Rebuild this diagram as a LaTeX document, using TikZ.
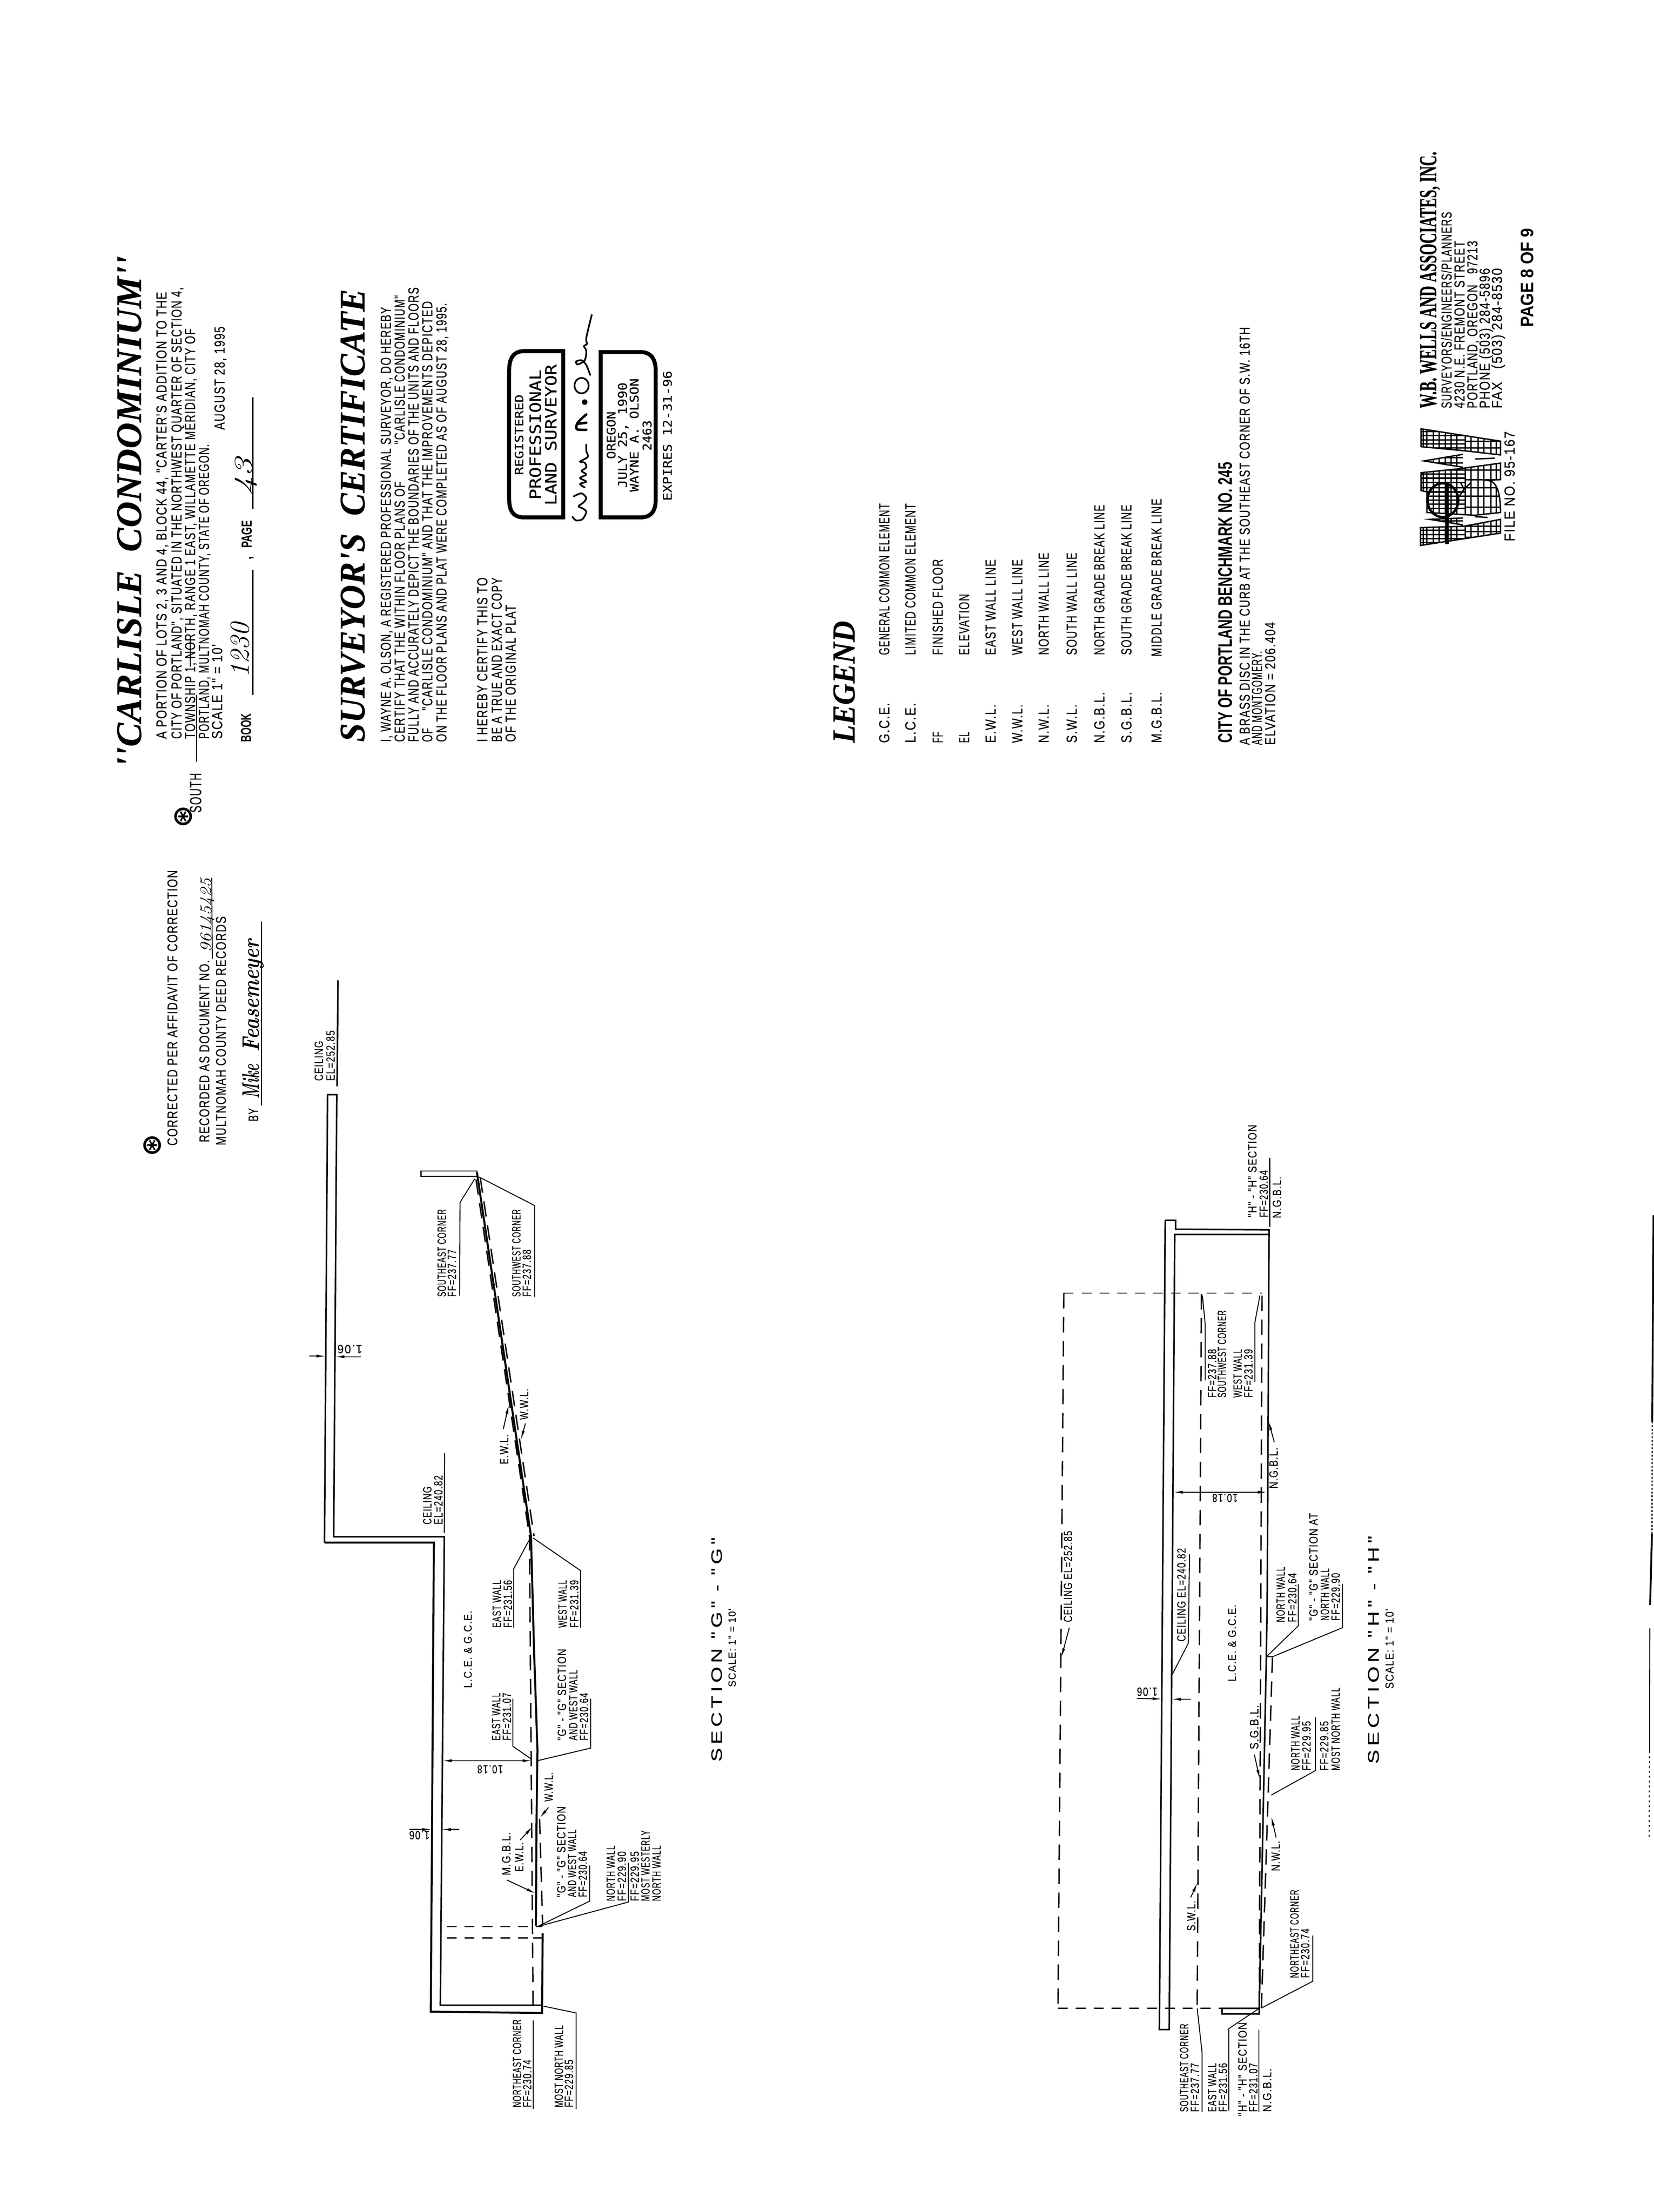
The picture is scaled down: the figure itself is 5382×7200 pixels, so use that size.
\documentclass[tikz,border=0pt]{standalone}
\usepackage{fontspec}
\usepackage{graphicx}
\usetikzlibrary{arrows.meta}
\newfontfamily\lero[LetterSpace=8,FakeBold=0.35]{Liberation Sans}
\newfontfamily\plainsf{Liberation Sans}
\newfontfamily\secf[LetterSpace=18,FakeBold=0.5]{Liberation Sans}
\newfontfamily\ttl[LetterSpace=1,FakeBold=0.4]{Liberation Serif}
\newfontfamily\slab[FakeBold=0.6]{Liberation Serif}
\newfontfamily\stampf[FakeBold=0.3]{DejaVu Sans Mono}
\newfontfamily\djv{DejaVu Sans}
\newcommand\hw{\normalfont\itshape}
\newcommand\bsf{\plainsf\bfseries}
\newcommand\ttlf{\ttl\bfseries\itshape}
\newcommand\slabf{\slab\bfseries}
\newcounter{tc}
% \T[font]{x}{y}{length}{cap}{text}: rotated text, baseline start at (x,y)
\newcommand\T[6][\lero]{\stepcounter{tc}%
  \pgfmathsetmacro\tfs{#5*0.397}\pgfmathsetmacro\tlen{#4*0.2845274}%
  \node[lab] (t\thetc) at (#2,#3) {#1\fontsize{\tfs pt}{\tfs pt}\selectfont\resizebox{\tlen pt}{\height}{#6}};}
% \U{x}{y}{length}{cap}{text}: upside-down dimension text
\newcommand\U[5]{\stepcounter{tc}%
  \pgfmathsetmacro\tfs{#4*0.397}\pgfmathsetmacro\tlen{#3*0.2845274}%
  \node[dimlab] (t\thetc) at (#1,#2) {\lero\fontsize{\tfs pt}{\tfs pt}\selectfont\resizebox{\tlen pt}{\height}{#5}};}
\tikzset{
  lab/.style={rotate=90,anchor=base west,inner sep=0pt,outer sep=0pt},
  dimlab/.style={rotate=180,anchor=base west,inner sep=0pt,outer sep=0pt},
  wall/.style={line width=.5mm},
  fine/.style={line width=.35mm},
  leader/.style={line width=.3mm},
  vd/.style={line width=.45mm,dash pattern=on 5mm off 2.8mm},
  hd/.style={line width=.35mm,dash pattern=on 3.2mm off 2.6mm},
  arr/.style={line width=.3mm,-{Latex[length=3mm,width=1mm]}},
  stampbox/.style={line width=1.3mm},
  pen/.style={line width=.55mm,line cap=round,line join=round},
  logo/.style={line width=.45mm,line join=miter},
  astmark/.style={inner sep=0pt,outer sep=0pt,rotate=90,font=\djv\bfseries\fontsize{25}{25}\selectfont},
}
\begin{document}
\begin{tikzpicture}[x=0.01cm,y=-0.01cm]
\useasboundingbox[fill=white] (0,0) rectangle (5382,7200);
% ---- title block
\T[\ttlf]{459}{2498}{1664}{84}{''CARLISLE\ \ CONDOMINIUM''}
\T{542}{2405}{1454}{34}{A PORTION OF LOTS 2, 3 AND 4, BLOCK 44, "CARTER'S ADDITION TO THE}
\T{591}{2405}{1469}{34}{CITY OF PORTLAND", SITUATED IN THE NORTHWEST QUARTER OF SECTION 4,}
\T{635}{2405}{1335}{34}{TOWNSHIP 1, NORTH, RANGE 1 EAST, WILLAMETTE MERIDIAN, CITY OF}
\T{680}{2405}{959}{34}{PORTLAND, MULTNOMAH COUNTY, STATE OF OREGON.}
\T{723}{2405}{308}{34}{SCALE 1" = 10'}
\T{731}{1399}{336}{34}{AUGUST 28, 1995}
\draw[leader] (640,2479) -- (640,2262);
\draw[leader] (619,2170) -- (619,2071);
\T{655}{2645}{129}{38}{SOUTH}
\node[astmark] (ast1) at (596,2658) {⊛};
\T[\bsf]{817}{2415}{93}{34}{BOOK}
\draw[fine] (823,2262) -- (823,1854);
\T[\bsf]{819}{1784}{89}{34}{PAGE}
\T[\bsf]{819}{1822}{12}{34}{,}
\draw[fine] (823,1657) -- (823,1293);
\T[\hw]{810}{2205}{178}{64}{1230}
\T[\hw]{820}{1612}{121}{60}{43}
% ---- surveyor
\T[\ttlf]{1186}{2415}{1473}{84}{SURVEYOR'S\ \ CERTIFICATE}
\T{1272}{2415}{1415}{34}{I, WAYNE A. OLSON, A REGISTERED PROFESSIONAL SURVEYOR, DO HEREBY}
\T{1317}{2415}{848}{34}{CERTIFY THAT THE WITHIN FLOOR PLANS OF}
\T{1317}{1446}{485}{34}{"CARLISLE CONDOMINIUM"}
\T{1362}{2415}{1479}{34}{FULLY AND ACCURATELY DEPICT THE BOUNDARIES OF THE UNITS AND FLOORS}
\T{1407}{2415}{45}{34}{OF}
\T{1407}{2313}{1332}{34}{"CARLISLE CONDOMINIUM" AND THAT THE IMPROVEMENTS DEPICTED}
\T{1453}{2415}{1428}{34}{ON THE FLOOR PLANS AND PLAT WERE COMPLETED AS OF AUGUST 28, 1995.}
\T{1586}{2415}{535}{34}{I HEREBY CERTIFY THIS TO}
\T{1633}{2415}{535}{34}{BE A TRUE AND EXACT COPY}
\T{1678}{2415}{446}{34}{OF THE ORIGINAL PLAT}
% ---- stamp
\draw[stampbox] (1833,1143) -- (1705,1143) .. controls (1672,1143) and (1657,1165) .. (1657,1205) -- (1657,1625) .. controls (1657,1665) and (1672,1684) .. (1705,1684) -- (1833,1684) -- cycle;
\draw[stampbox] (1955,1146) -- (2085,1146) .. controls (2118,1146) and (2134,1168) .. (2134,1208) -- (2134,1625) .. controls (2134,1665) and (2118,1684) .. (2085,1684) -- (1955,1684) -- cycle;
\T[\stampf]{1703}{1546}{262}{27}{REGISTERED}
\T[\stampf]{1760}{1626}{423}{36}{PROFESSIONAL}
\T[\stampf]{1811}{1645}{459}{36}{LAND SURVEYOR}
\T[\stampf]{2003}{1494}{155}{28}{OREGON}
\T[\stampf]{2040}{1588}{343}{28}{JULY 25, 1990}
\T[\stampf]{2078}{1601}{369}{28}{WAYNE A. OLSON}
\T[\stampf]{2120}{1467}{99}{28}{2463}
\T[\stampf]{2186}{1630}{423}{28}{EXPIRES 12-31-96}
% signature
\begin{scope}[shift={(1500,1100)},x=0.005102cm,y=-0.003827cm]
\draw[pen] plot[smooth] coordinates {(712,1520)(735,1550)(775,1540)(800,1480)(780,1450)(750,1430)(780,1400)(800,1360)(770,1320)(720,1345)};
\draw[pen] plot[smooth] coordinates {(790,1270)(760,1240)(800,1220)(760,1190)(800,1160)(770,1130)(800,1100)(790,1060)(760,1050)(810,1010)(800,960)(800,905)};
\draw[pen,line width=.8mm] plot[smooth] coordinates {(800,650)(745,720)(740,775)(800,780)};
\draw[pen,line width=.8mm] (745,730) -- (800,720);
\fill (790,545) ellipse (.09cm and .09cm);
\draw[pen] (770,405) ellipse (.23cm and .25cm);
\draw[pen] plot[smooth] coordinates {(825,315)(800,230)(770,190)(735,200)(745,225)(790,190)(800,110)(785,70)(805,50)(800,0)(835,-196)};
\end{scope}
% ---- affidavit
\node[astmark] (ast2) at (496,3728) {⊛};
\T{577}{3729}{896}{33}{CORRECTED PER AFFIDAVIT OF CORRECTION}
\T{681}{3718}{593}{33}{RECORDED AS DOCUMENT NO.}
\T{735}{3728}{745}{33}{MULTNOMAH COUNTY DEED RECORDS}
\draw[leader] (691,3121) -- (689,2857);
\T[\hw]{688}{3100}{241}{38}{96145425}
\T{840}{3650}{43}{32}{BY}
\draw[fine] (851,3598) -- (851,3000);
\T[\hw\bfseries]{843}{3576}{112}{56}{Mike}
\T[\hw\bfseries]{843}{3423}{365}{56}{Feasemeyer}
% ---- legend
\T[\ttlf]{2781}{2418}{397}{75}{LEGEND}
\T{2894}{2418}{130}{34}{G.C.E.}   \T{2894}{2132}{493}{34}{GENERAL COMMON ELEMENT}
\T{2979}{2418}{130}{34}{L.C.E.}   \T{2979}{2132}{493}{34}{LIMITED COMMON ELEMENT}
\T{3068}{2418}{36}{34}{FF}        \T{3068}{2132}{312}{34}{FINISHED FLOOR}
\T{3154}{2418}{36}{34}{EL}        \T{3154}{2132}{199}{34}{ELEVATION}
\T{3240}{2418}{125}{34}{E.W.L.}   \T{3240}{2132}{311}{34}{EAST WALL LINE}
\T{3327}{2418}{125}{34}{W.W.L.}   \T{3327}{2132}{311}{34}{WEST WALL LINE}
\T{3413}{2418}{125}{34}{N.W.L.}   \T{3413}{2132}{333}{34}{NORTH WALL LINE}
\T{3504}{2418}{125}{34}{S.W.L.}   \T{3504}{2132}{333}{34}{SOUTH WALL LINE}
\T{3594}{2418}{165}{34}{N.G.B.L.} \T{3594}{2132}{489}{34}{NORTH GRADE BREAK LINE}
\T{3682}{2418}{165}{34}{S.G.B.L.} \T{3682}{2132}{489}{34}{SOUTH GRADE BREAK LINE}
\T{3780}{2418}{165}{34}{M.G.B.L.} \T{3780}{2137}{514}{34}{MIDDLE GRADE BREAK LINE}
\T[\bsf]{4010}{2418}{913}{46}{CITY OF PORTLAND BENCHMARK NO. 245}
\T{4067}{2425}{1360}{34}{A BRASS DISC IN THE CURB AT THE SOUTHEAST CORNER OF S.W. 16TH}
\T{4107}{2425}{306}{34}{AND MONTGOMERY.}
\T{4150}{2425}{400}{34}{ELVATION = 206.404}
% ---- firm
\T[\slabf]{4674}{1329}{835}{57}{W.B. WELLS AND ASSOCIATES, INC.}
\T{4724}{1329}{639}{34}{SURVEYORS/ENGINEERS/PLANNERS}
\T{4766}{1329}{545}{34}{4230 N.E. FREMONT STREET}
\T{4808}{1329}{545}{34}{PORTLAND, OREGON\quad 97213}
\T{4848}{1329}{456}{34}{PHONE (503) 284-5896}
\T{4888}{1329}{456}{34}{FAX\quad (503) 284-8530}
\T{4929}{1762}{358}{34}{FILE NO. 95-167}
\T[\bsf]{4990}{1065}{321}{42}{PAGE 8 OF 9}
% logo
\begin{scope}[shift={(4500,400)},x=0.003827cm,y=-0.008929cm]
\begin{scope}
\clip (325,1115)--(1000,1160)--(1000,1210)--(695,1195)--(325,1180)--cycle
 (680,1208)--(350,1232)--(680,1255)--cycle
 (325,1275)--(660,1260)--(1000,1240)--(1000,1300)--(890,1303) .. controls (970,1305) and (1000,1350) .. (1000,1420)--(780,1430)--(375,1420)--(375,1345)--(325,1340)--cycle
 (680,1440)--(400,1445)--(680,1465)--cycle
 (320,1475)--(690,1470)--(1000,1445)--(1000,1495)--(320,1540)--cycle;
\foreach \a in {1125,1140,1155,1170,1185,1205,1220,1240,1265,1280,1295,1310,1330,1345,1360,1375,1390,1405,1450,1485,1500,1515,1530}
  \draw[logo] (320,\a) -- (700,\a);
\foreach \a in {1130,1160,1185,1215,1240,1265,1300,1330,1360,1400,1470,1490,1510}
  \draw[logo] (700,\a) -- (1000,\a);
\foreach \a in {345,375,430,480,530,580,630,700,750,810,860,920,965}
  \draw[logo] (\a,1100) -- (\a,1550);
\end{scope}
\draw[logo] (325,1115)--(1000,1160)--(1000,1210)--(695,1195)--(325,1180)--cycle;
\draw[logo] (680,1208)--(350,1232)--(680,1255);
\draw[logo] (325,1275)--(660,1260)--(1000,1240)--(1000,1300)--(890,1303) .. controls (970,1305) and (1000,1350) .. (1000,1420)--(780,1430)--(375,1420)--(375,1345)--(325,1340)--cycle;
\draw[logo] (680,1440)--(400,1445)--(680,1465);
\draw[logo] (320,1475)--(690,1470)--(1000,1445)--(1000,1495)--(320,1540)--cycle;
\draw[logo] (785,1225)--(950,1222);
\draw[logo] (780,1435)--(890,1438);
\draw[logo] (660,1310)--(690,1335)--(750,1310);
\draw[logo] (690,1335)--(650,1360);
\draw[line width=.8mm] (510,1375) ellipse (.5cm and .55cm);
\draw[line width=1.2mm] (545,1315)--(545,1535);
\end{scope}
% ---- SECTION G
\draw[wall] (1056,5021) -- (1066,3563) -- (1096,3563) -- (1086,5002) -- (1446,5002) -- (1433,6527) -- (1763,6527);
\draw[line width=.65mm] (1056,5021) -- (1412,5021) -- (1402,6548) -- (1764,6552) -- (1766,6293);
\draw[fine] (1370,3812) -- (1552,3812) -- (1552,3829) -- (1370,3829) -- cycle;
\draw[line width=.65mm] (1552,3815) -- (1728,5000) -- (1738,5373) -- (1749,5696) -- (1746,5933) -- (1744,6268);
\draw[vd] (1549,3839) -- (1723,5000) -- (1735,6555);
\draw[vd] (1563,3833) -- (1738,5000);
\draw[vd] (1756,5920) -- (1766,6268);
\draw[hd] (1454,6271) -- (1745,6271);
\draw[hd] (1454,6308) -- (1735,6308);
\draw[fine] (1735,6308) -- (1766,6308);
\draw[fine] (1744,6271) -- (1766,6271);
% dims
\draw[arr] (1007,4414) -- (1060,4414);
\draw[arr] (1175,4416) -- (1091,4416);
\U{1179}{4378}{81}{28}{1.06}
\draw[arr] (1332,5955) -- (1405,5955);
\draw[arr] (1494,5955) -- (1437,5955);
\U{1398}{5960}{66}{28}{1.06}
\draw[arr,{Latex[length=3mm,width=1mm]}-{Latex[length=3mm,width=1mm]}] (1440,5731) -- (1731,5731);
\U{1637}{5746}{84}{27}{10.18}
% labels G
\T{1051}{3518}{130}{28}{CEILING}
\T{1089}{3518}{164}{28}{EL=252.85}
\draw[wall] (1100,3191) -- (1097,3536);
\T{1404}{4962}{124}{28}{CEILING}
\T{1440}{4962}{160}{28}{EL=240.82}
\draw[fine] (1447,4730) -- (1446,4990);
\T{1451}{4221}{285}{28}{SOUTHEAST CORNER}
\T{1484}{4221}{154}{28}{FF=237.77}
\draw[leader] (1496,4217) -- (1497,3914) -- (1545,3837);
\T{1694}{4221}{285}{28}{SOUTHWEST CORNER}
\T{1728}{4221}{154}{28}{FF=237.88}
\draw[leader] (1740,4221) -- (1740,3924) -- (1559,3831);
\T{1654}{4766}{97}{28}{E.W.L.}
\draw[arr] (1638,4651) -- (1656,4572);
\T{1719}{4621}{101}{28}{W.W.L.}
\draw[arr] (1710,4633) -- (1695,4687);
\T{1535}{5494}{251}{26}{L.C.E. \& G.C.E.}
\T{1630}{5298}{155}{28}{EAST WALL}
\T{1666}{5298}{155}{28}{FF=231.56}
\draw[leader] (1672,5298) -- (1672,5106) -- (1721,5015);
\T{1844}{5298}{155}{28}{WEST WALL}
\T{1882}{5298}{155}{28}{FF=231.39}
\draw[leader] (1889,5298) -- (1889,5112) -- (1735,5006);
\T{1842}{5665}{298}{28}{"G" - "G" SECTION}
\T{1879}{5665}{230}{28}{AND WEST WALL}
\T{1914}{5665}{155}{28}{FF=230.64}
\draw[leader] (1922,5529) -- (1922,5690) -- (1749,5731);
\T{1628}{5665}{155}{28}{EAST WALL}
\T{1663}{5665}{155}{28}{FF=231.07}
\draw[leader] (1669,5529) -- (1669,5684) -- (1731,5727);
\T{1799}{5864}{95}{28}{W.W.L.}
\draw[arr] (1785,5883) -- (1756,5918);
\T{1703}{6092}{95}{28}{E.W.L.}
\draw[arr] (1693,5989) -- (1734,5945);
\T{1661}{6104}{140}{28}{M.G.B.L.}
\draw[arr] (1649,6119) -- (1743,6163);
\T{1840}{6175}{295}{28}{"G" - "G" SECTION}
\T{1875}{6175}{220}{28}{AND WEST WALL}
\T{1910}{6175}{149}{28}{FF=230.64}
\draw[leader] (1919,6072) -- (1919,6188) -- (1749,6271);
\T{2001}{6188}{181}{28}{NORTH WALL}
\T{2037}{6188}{162}{28}{FF=229.90}
\draw[leader] (2045,6063) -- (2045,6191) -- (1749,6271);
\T{2079}{6188}{162}{28}{FF=229.95}
\T{2114}{6188}{230}{28}{MOST WESTERLY}
\T{2150}{6188}{181}{28}{NORTH WALL}
\T{1696}{6859}{286}{28}{NORTHEAST CORNER}
\T{1729}{6859}{155}{28}{FF=230.74}
\draw[fine] (1735,6577) -- (1735,6865);
\T{1832}{6859}{267}{28}{MOST NORTH WALL}
\T{1865}{6859}{155}{28}{FF=229.85}
\draw[leader] (1875,6865) -- (1875,6552) -- (1769,6530);
\T[\secf]{2349}{5734}{730}{35}{SECTION "G" - "G"}
\T{2394}{5491}{255}{24}{SCALE: 1" = 10'}
% ---- SECTION H
\draw[wall] (3792,3972) -- (3826,3972) -- (3826,4001) -- (4130,4003) -- (4124,5200) -- (4121,5395) -- (4098,6537) -- (4098,6555) -- (3977,6555) -- (3977,6537) -- (4098,6537);
\draw[wall] (3792,3972) -- (3773,6606) -- (3805,6606) -- (3823,4018) -- (4129,4018);
\draw[hd] (3462,4209) -- (4108,4209);
\draw[vd] (3462,4209) -- (3443,6537);
\draw[hd] (3443,6537) -- (4098,6537);
\draw[vd] (3910,4212) -- (3896,6537);
\draw[vd] (4107,4217) -- (4098,6537);
\draw[vd] (4141,5395) -- (4105,6537);
\draw[fine] (4121,5393) -- (4141,5393);
\draw[arr] (3700,5528) -- (3781,5530);
\draw[arr] (3875,5531) -- (3813,5531);
\U{3767}{5493}{67}{28}{1.06}
\draw[arr,{Latex[length=3mm,width=1mm]}-{Latex[length=3mm,width=1mm]}] (3819,4857) -- (4123,4857);
\U{4028}{4863}{83}{27}{10.18}
\T{4089}{3962}{301}{28}{"H" - "H" SECTION}
\T{4126}{3962}{153}{28}{FF=230.64}
\draw[fine] (4132,3768) -- (4132,3993);
\T{4169}{3965}{135}{28}{N.G.B.L.}
\T{3958}{4549}{158}{28}{FF=237.88}
\T{3990}{4549}{284}{28}{SOUTHWEST CORNER}
\draw[leader] (3922,4493) -- (3922,4309) -- (3913,4217);
\T{4041}{4549}{158}{28}{WEST WALL}
\T{4076}{4549}{158}{28}{FF=231.39}
\draw[leader] (4084,4498) -- (4084,4304) -- (4100,4217);
\T{4158}{4845}{133}{28}{N.G.B.L.}
\draw[arr] (4147,4694) -- (4128,4625);
\T{3858}{5343}{304}{28}{CEILING EL=240.82}
\draw[leader] (3871,5059) -- (3867,5349) -- (3815,5450);
\T{3489}{5280}{297}{28}{CEILING EL=252.85}
\draw[arr] (3480,5298) -- (3454,5395);
\T{4022}{5473}{250}{26}{L.C.E. \& G.C.E.}
\T{4095}{5694}{144}{28}{S.G.B.L.}
\draw[arr] (4082,5711) -- (4100,5791);
\T{4165}{6090}{98}{28}{N.W.L.}
\draw[arr] (4153,5981) -- (4137,5912);
\T{3890}{6285}{98}{28}{S.W.L.}
\draw[arr] (3875,6176) -- (3897,6128);
\T{4229}{5763}{178}{28}{NORTH WALL}
\T{4265}{5763}{161}{28}{FF=229.95}
\draw[leader] (4281,5590) -- (4281,5763) -- (4137,5843);
\T{4323}{5763}{161}{28}{FF=229.85}
\T{4360}{5763}{270}{28}{MOST NORTH WALL}
\T{4226}{6438}{287}{28}{NORTHEAST CORNER}
\T{4261}{6438}{161}{28}{FF=230.74}
\draw[leader] (4272,6300) -- (4272,6449) -- (4107,6535);
\T{3867}{6874}{287}{28}{SOUTHEAST CORNER}
\T{3902}{6874}{159}{28}{FF=237.77}
\draw[leader] (3912,6874) -- (3912,6681) -- (3896,6537);
\T{3958}{6874}{159}{28}{EAST WALL}
\T{3993}{6874}{159}{28}{FF=231.56}
\draw[leader] (3999,6870) -- (3999,6603) -- (4098,6537);
\T{4057}{6888}{305}{28}{"H" - "H" SECTION}
\T{4092}{6874}{159}{28}{FF=231.07}
\draw[fine] (4097,6606) -- (4097,6874);
\T{4137}{6874}{141}{28}{N.G.B.L.}
\T{4181}{5280}{180}{28}{NORTH WALL}
\T{4219}{5280}{160}{28}{FF=230.64}
\draw[leader] (4225,5156) -- (4225,5292) -- (4121,5393);
\T{4288}{5275}{350}{28}{"G" - "G" SECTION AT}
\T{4325}{5275}{170}{28}{NORTH WALL}
\T{4360}{5275}{155}{28}{FF=229.90}
\draw[leader] (4369,5156) -- (4369,5298) -- (4140,5393);
\T[\secf]{4487}{5741}{742}{36}{SECTION "H" - "H"}
\T{4535}{5497}{260}{27}{SCALE: 1" = 10'}
% ---- scan edge mark
\draw[line width=.6mm] (5381,3955) -- (5377,4627);
\draw[line width=.4mm,dash pattern=on .6mm off .6mm] (5377,4627) -- (5376,4992);
\draw[line width=.6mm] (5376,4992) -- (5370,5224);
\draw[line width=.3mm] (5369,5300) -- (5368,5700);
\draw[line width=.3mm,dash pattern=on .6mm off 1mm] (5368,5700) -- (5367,5980);
\end{tikzpicture}
\end{document}
